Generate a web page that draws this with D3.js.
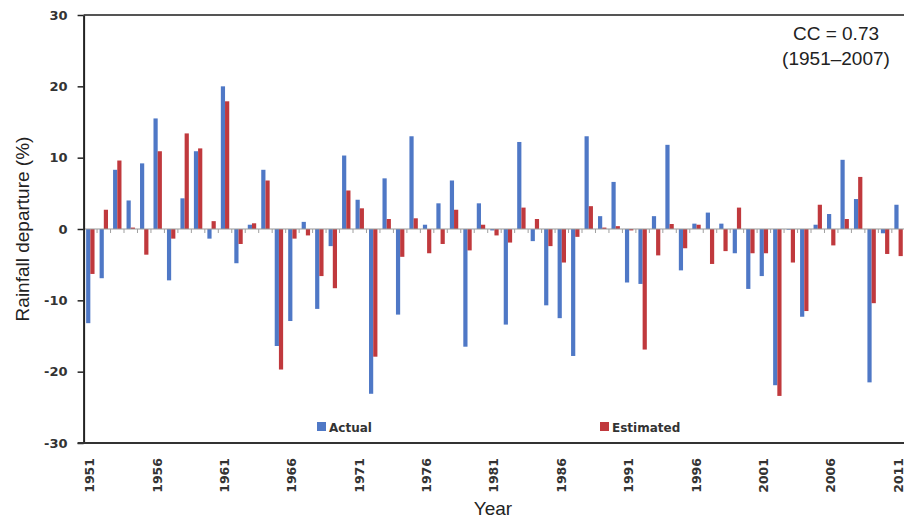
<!DOCTYPE html>
<html>
<head>
<meta charset="utf-8">
<script src="https://cdn.jsdelivr.net/npm/d3@7"></script>
<style>
  body { margin: 0; background: #fff; }
  svg { display: block; }
</style>
</head>
<body>
<div id="chart"></div>
<script>
// rainfall departure (%), 1951-2011
var years = d3.range(1951, 2012);
var tickYears = [1951, 1956, 1961, 1966, 1971, 1976, 1981, 1986, 1991, 1996, 2001, 2006, 2011];
var yTicks = [-30, -20, -10, 0, 10, 20, 30];
var seriesNames = ["Actual", "Estimated"];

var actual = [
  -13.2, -6.9, 8.3, 4.0, 9.2, 15.5, -7.2, 4.3, 10.9, -1.35,
  20.0, -4.8, 0.6, 8.3, -16.4, -12.9, 1.0, -11.2, -2.4, 10.3,
  4.1, -23.1, 7.1, -12.0, 13.0, 0.6, 3.6, 6.8, -16.5, 3.6,
  -0.2, -13.4, 12.2, -1.7, -10.7, -12.5, -17.8, 13.0, 1.8, 6.6,
  -7.5, -7.7, 1.8, 11.8, -5.8, 0.75, 2.3, 0.75, -3.4, -8.4,
  -6.6, -21.9, -0.1, -12.3, 0.6, 2.1, 9.7, 4.2, -21.5, -0.6,
  3.4
];
var estimated = [
  -6.3, 2.7, 9.6, 0.2, -3.6, 10.9, -1.35, 13.4, 11.3, 1.1,
  17.9, -2.1, 0.8, 6.8, -19.7, -1.35, -0.9, -6.6, -8.3, 5.4,
  2.9, -17.9, 1.4, -3.9, 1.5, -3.4, -2.1, 2.7, -3.0, 0.6,
  -0.9, -1.9, 3.0, 1.4, -2.4, -4.7, -1.1, 3.2, 0.2, 0.4,
  -0.2, -16.9, -3.7, 0.7, -2.7, 0.6, -4.9, -3.1, 3.0, -3.4,
  -3.4, -23.4, -4.7, -11.5, 3.4, -2.3, 1.4, 7.3, -10.4, -3.5,
  -3.8
];

var colors = { Actual: "#4f78c6", Estimated: "#c0393d" };

var width = 904, height = 522;
var plot = { left: 83.6, right: 905.3, top: 15, bottom: 443 };

var svg = d3.select("#chart").append("svg")
  .attr("width", width)
  .attr("height", height);

var x = d3.scaleBand()
  .domain(years)
  .range([plot.left, plot.right])
  .paddingInner(0.376)
  .paddingOuter(0.188);

var xs = d3.scaleBand()
  .domain(seriesNames)
  .range([0, x.bandwidth()]);

var y = d3.scaleLinear()
  .domain([-30, 30])
  .range([plot.bottom, plot.top]);

var rows = years.map(function (yr, i) {
  return { year: yr, Actual: actual[i], Estimated: estimated[i] };
});

// bars
var groups = svg.append("g").selectAll("g")
  .data(rows).enter()
  .append("g")
  .attr("transform", function (d) { return "translate(" + x(d.year) + ",0)"; });

groups.selectAll("rect")
  .data(function (d) {
    return seriesNames.map(function (k) { return { key: k, value: d[k] }; });
  }).enter()
  .append("rect")
  .attr("x", function (d) { return xs(d.key); })
  .attr("width", xs.bandwidth())
  .attr("y", function (d) { return y(Math.max(0, d.value)); })
  .attr("height", function (d) { return Math.abs(y(d.value) - y(0)); })
  .style("fill", function (d) { return colors[d.key]; });

// zero line with minor category ticks
svg.append("line")
  .attr("x1", plot.left).attr("x2", width)
  .attr("y1", y(0)).attr("y2", y(0))
  .style("stroke", "#9a9a9a")
  .style("stroke-width", 1.2);

svg.append("g").selectAll("line")
  .data(years.slice(1)).enter()
  .append("line")
  .attr("x1", function (d) { return x(d) - x.step() * x.paddingInner() / 2; })
  .attr("x2", function (d) { return x(d) - x.step() * x.paddingInner() / 2; })
  .attr("y1", y(0)).attr("y2", y(0) + 4)
  .style("stroke", "#a0a0a0")
  .style("stroke-width", 1);

// top border
svg.append("line")
  .attr("x1", plot.left).attr("x2", width)
  .attr("y1", plot.top).attr("y2", plot.top)
  .style("stroke", "#555")
  .style("stroke-width", 2);

// y axis (plain hyphen for negatives, like the original)
var yAxis = svg.append("g")
  .attr("transform", "translate(" + plot.left + ",0)")
  .call(d3.axisLeft(y).tickValues(yTicks).tickSize(6).tickPadding(10).tickSizeOuter(0)
    .tickFormat(function (d) { return String(d); }));
yAxis.select(".domain").style("stroke", "#222").style("stroke-width", 2);
yAxis.selectAll(".tick line").style("stroke", "#222").style("stroke-width", 1.5);
yAxis.selectAll("text")
  .style("font-family", "DejaVu Sans")
  .style("font-weight", "bold")
  .style("font-size", "13px")
  .style("fill", "#333");

// bottom axis
svg.append("line")
  .attr("x1", plot.left - 6).attr("x2", width)
  .attr("y1", plot.bottom).attr("y2", plot.bottom)
  .style("stroke", "#333")
  .style("stroke-width", 2);

svg.append("g").selectAll("text")
  .data(tickYears).enter()
  .append("text")
  .attr("transform", function (d) {
    return "translate(" + (x(d) + x.bandwidth() / 2 + 4) + "," + (plot.bottom + 15) + ") rotate(-90)";
  })
  .attr("text-anchor", "end")
  .style("font-family", "DejaVu Sans")
  .style("font-weight", "bold")
  .style("font-size", "12.5px")
  .style("fill", "#333")
  .text(function (d) { return d; });

// axis titles
svg.append("text")
  .attr("transform", "translate(29," + y(0) + ") rotate(-90)")
  .attr("text-anchor", "middle")
  .style("font-family", "Liberation Sans")
  .style("font-size", "19px")
  .style("fill", "#222")
  .text("Rainfall departure (%)");

svg.append("text")
  .attr("x", 493)
  .attr("y", 515)
  .attr("text-anchor", "middle")
  .style("font-family", "Liberation Sans")
  .style("font-size", "19px")
  .style("fill", "#222")
  .text("Year");

// CC annotation
svg.append("text")
  .attr("x", 836).attr("y", 40)
  .attr("text-anchor", "middle")
  .style("font-family", "Liberation Sans")
  .style("font-size", "19px")
  .style("fill", "#222")
  .text("CC = 0.73");
svg.append("text")
  .attr("x", 836).attr("y", 65)
  .attr("text-anchor", "middle")
  .style("font-family", "Liberation Sans")
  .style("font-size", "19px")
  .style("fill", "#222")
  .text("(1951\u20132007)");

// legend
var legendX = { Actual: 317, Estimated: 600 };
var legend = svg.append("g").selectAll("g")
  .data(seriesNames).enter()
  .append("g")
  .attr("transform", function (d) { return "translate(" + legendX[d] + ",422)"; });
legend.append("rect")
  .attr("width", 9).attr("height", 9)
  .style("fill", function (d) { return colors[d]; });
legend.append("text")
  .attr("x", 12).attr("y", 10)
  .style("font-family", "DejaVu Sans")
  .style("font-weight", "bold")
  .style("font-size", "12px")
  .style("fill", "#333")
  .text(function (d) { return d; });
</script>
</body>
</html>
